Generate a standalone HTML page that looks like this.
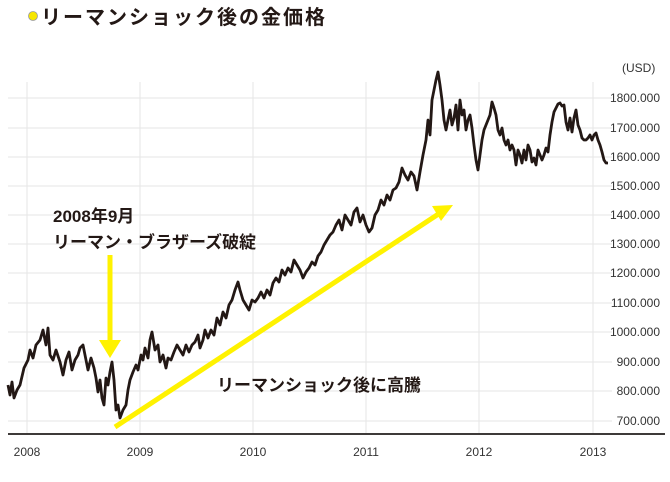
<!DOCTYPE html>
<html><head><meta charset="utf-8"><style>
body{margin:0;background:#fff;}
svg{display:block;font-family:"Liberation Sans","Noto Sans CJK JP",sans-serif;}
</style></head><body>
<svg width="670" height="482" viewBox="0 0 670 482">
<circle cx="33" cy="16" r="4.5" fill="#f6e600" stroke="#999" stroke-width="0.8"/>
<text x="41" y="24" font-size="20" font-weight="bold" fill="#231815" letter-spacing="2">リーマンショック後の金価格</text>
<text x="622" y="72" font-size="12" fill="#333">(USD)</text>
<g stroke="#e6e6e6" stroke-width="1">
<line x1="27" y1="82" x2="27" y2="433"/><line x1="140" y1="82" x2="140" y2="433"/><line x1="253" y1="82" x2="253" y2="433"/><line x1="366" y1="82" x2="366" y2="433"/><line x1="479" y1="82" x2="479" y2="433"/><line x1="593" y1="82" x2="593" y2="433"/>
<line x1="8" y1="98" x2="612" y2="98"/><line x1="8" y1="128" x2="612" y2="128"/><line x1="8" y1="157" x2="612" y2="157"/><line x1="8" y1="186" x2="612" y2="186"/><line x1="8" y1="215" x2="612" y2="215"/><line x1="8" y1="244" x2="612" y2="244"/><line x1="8" y1="273" x2="612" y2="273"/><line x1="8" y1="303" x2="612" y2="303"/><line x1="8" y1="332" x2="612" y2="332"/><line x1="8" y1="362" x2="612" y2="362"/><line x1="8" y1="391" x2="612" y2="391"/><line x1="8" y1="421" x2="612" y2="421"/>
</g>
<g font-size="12" fill="#333" text-anchor="end">
<text x="660" y="102">1800.000</text><text x="660" y="132">1700.000</text><text x="660" y="161">1600.000</text><text x="660" y="190">1500.000</text><text x="660" y="219">1400.000</text><text x="660" y="248">1300.000</text><text x="660" y="277">1200.000</text><text x="660" y="307">1100.000</text><text x="660" y="336">1000.000</text><text x="660" y="366">900.000</text><text x="660" y="395">800.000</text><text x="660" y="425">700.000</text>
</g>
<line x1="8" y1="434" x2="665" y2="434" stroke="#3e3a39" stroke-width="2"/>
<g font-size="12" fill="#333" text-anchor="middle">
<text x="27" y="456">2008</text><text x="140" y="456">2009</text><text x="253" y="456">2010</text><text x="366" y="456">2011</text><text x="479" y="456">2012</text><text x="593" y="456">2013</text>
</g>
<polyline fill="none" stroke="#231815" stroke-width="2.8" stroke-linejoin="round" points="8,385 10,395 12,382 14,398 17,390 20,385 24,368 28,360 30,350 33,358 36,345 40,340 43,330 46,345 48,328 50,355 53,360 56,350 60,362 63,375 66,360 69,352 72,370 75,360 78,355 80,348 83,345 86,360 88,370 91,358 94,368 96,378 98,392 100,380 102,398 104,405 106,378 108,385 110,372 112,362 114,380 116,410 118,405 120,418 123,410 126,405 128,390 130,380 133,372 136,365 138,370 141,355 143,360 145,348 148,358 150,340 152,332 155,350 158,345 160,362 163,355 166,368 168,358 171,360 174,352 177,345 180,350 183,355 186,345 189,352 192,345 195,342 198,335 200,348 203,340 205,330 208,338 211,330 214,335 217,318 220,325 223,312 226,318 229,305 232,300 235,290 238,282 240,290 243,300 246,305 249,310 252,300 255,302 258,298 261,292 264,298 267,290 270,295 273,283 276,278 279,282 282,270 285,275 288,268 291,272 294,260 297,265 300,270 303,278 306,272 309,268 312,262 315,265 318,256 321,252 324,245 327,240 330,235 333,232 336,225 339,220 342,230 345,215 348,220 351,225 354,212 357,208 360,222 363,215 366,225 369,232 372,228 375,215 378,210 381,200 384,205 387,195 390,200 393,190 396,188 399,182 402,168 405,175 408,180 411,172 414,176 417,190 420,172 423,155 426,140 428,120 430,135 432,100 434,90 436,80 438,72 440,85 442,100 444,120 446,130 448,120 450,110 452,125 454,118 456,105 458,130 460,100 462,115 464,110 466,130 468,120 470,115 472,128 474,145 476,160 478,170 480,155 482,140 484,130 486,125 488,120 490,115 492,102 494,108 496,115 498,130 500,135 502,128 504,140 506,145 508,140 510,150 512,145 514,150 516,165 518,150 520,155 522,163 524,150 526,160 528,145 530,150 532,162 534,158 536,165 538,150 540,155 542,160 544,155 546,148 548,152 550,135 552,122 554,112 556,108 558,104 560,103 562,106 564,105 566,122 568,130 570,118 572,132 574,118 576,110 578,125 580,130 582,138 584,140 586,140 588,138 590,135 592,140 594,135 596,133 598,140 600,145 602,152 604,160 606,163 608,163"/>
<line x1="115" y1="427" x2="440" y2="213" stroke="#fff200" stroke-width="5"/>
<polygon points="453,205 432,206 441,221" fill="#fff200"/>
<line x1="110" y1="255" x2="110" y2="340" stroke="#fff200" stroke-width="5"/>
<polygon points="99,340 121,340 110,358" fill="#fff200"/>
<text x="53" y="222" font-size="17" font-weight="bold" fill="#231815">2008年9月</text>
<text x="53" y="248" font-size="17" font-weight="bold" fill="#231815">リーマン・ブラザーズ破綻</text>
<text x="217" y="391" font-size="17" font-weight="bold" fill="#231815">リーマンショック後に高騰</text>
</svg>
</body></html>
